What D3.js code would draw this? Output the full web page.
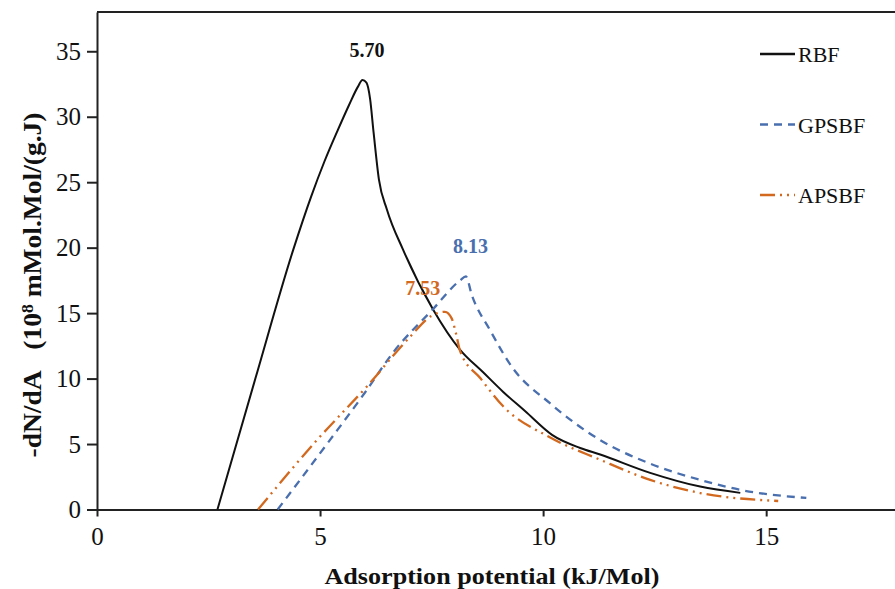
<!DOCTYPE html>
<html>
<head>
<meta charset="utf-8">
<script src="https://cdn.jsdelivr.net/npm/d3@7"></script>
<style>
  body { margin: 0; background: #fff; }
  text { font-family: "Liberation Serif", "Times New Roman", serif; }
</style>
</head>
<body>
<div id="my_dataviz"></div>
<script>
// data: [adsorption potential (kJ/Mol), -dN/dA]
var rbfData = [[2.7,0],[3.55,10],[4.4,19.85],[4.8,23.9],[5.1,26.6],[5.4,29],[5.65,30.9],[5.85,32.3],[5.95,32.8],[6.04,32.6],[6.12,31.4],[6.2,28.8],[6.32,25.2],[6.5,22.9],[6.86,19.85],[7.53,15.3],[8.14,12.2],[8.65,10.5],[9.1,9.0],[9.6,7.5],[10.2,5.7],[10.83,4.7],[11.28,4.2],[12.4,2.8],[13.52,1.75],[14.42,1.27]];
var gpsbfData = [[4.05,0],[5.22,5.3],[6.0,8.9],[6.64,12.0],[7.53,15.3],[8.14,17.5],[8.27,17.8],[8.4,16.4],[8.81,13.7],[9.3,10.9],[10.16,8.1],[11.28,5.3],[12.4,3.5],[13.52,2.26],[14.42,1.5],[15.9,0.88]];
var apsbfData = [[3.61,0],[4.93,5.3],[6.05,9.4],[7.02,13.2],[7.5,14.8],[7.8,15.1],[7.95,14.6],[8.05,13.4],[8.14,12.1],[8.6,10.0],[9.1,7.9],[10.16,5.5],[11.28,3.8],[12.4,2.26],[13.52,1.26],[15.27,0.65]];

var seriesNames = ["RBF", "GPSBF", "APSBF"];
var seriesColors = ["#111111", "#4a6fae", "#d2691f"];
var seriesDash = ["none", "8,6", "15,5,2,5,2,5"];

var peakLabels = ["5.70", "8.13", "7.53"];
var peakAt = [[6.05, 34.6], [8.37, 19.6], [7.3, 16.4]];

var xTicks = [0, 5, 10, 15];
var yTicks = [0, 5, 10, 15, 20, 25, 30, 35];

// set the dimensions and margins of the graph
var margin = {top: 12, right: 0, bottom: 79.5, left: 97},
    width = 803,
    height = 589 - margin.top - margin.bottom;

var svg = d3.select("#my_dataviz")
  .append("svg")
    .attr("width", 895)
    .attr("height", 589)
  .append("g")
    .attr("transform", "translate(" + margin.left + "," + margin.top + ")");

var x = d3.scaleLinear()
  .domain([0, 18])
  .range([0, width]);

var y = d3.scaleLinear()
  .domain([0, 38])
  .range([height, 0]);

// frame top
svg.append("line")
  .attr("x1", 0).attr("x2", width)
  .attr("y1", 0).attr("y2", 0)
  .attr("stroke", "#222")
  .attr("stroke-width", 2);

// X axis
var xAxis = svg.append("g")
  .attr("transform", "translate(0," + height + ")")
  .call(d3.axisBottom(x).tickValues(xTicks).tickSize(7).tickSizeOuter(0).tickPadding(11));
xAxis.selectAll("text").style("font-size", "25px").attr("fill", "#111");

// Y axis
var yAxis = svg.append("g")
  .call(d3.axisLeft(y).tickValues(yTicks).tickSize(10).tickSizeOuter(0).tickPadding(6));
yAxis.selectAll("text").style("font-size", "25px").attr("fill", "#111").attr("dy", "0.33em");

svg.selectAll(".domain, .tick line").attr("stroke", "#222").attr("stroke-width", 2);

// axis titles
svg.append("text")
  .attr("x", 395)
  .attr("y", 584 - margin.top)
  .attr("text-anchor", "middle")
  .attr("font-weight", "bold")
  .style("font-size", "23px")
  .attr("textLength", 335)
  .attr("lengthAdjust", "spacingAndGlyphs")
  .attr("fill", "#111")
  .text("Adsorption potential (kJ/Mol)");

var yLabel = svg.append("text")
  .attr("transform", "translate(" + (41 - margin.left) + "," + (285 - margin.top) + ") rotate(-90)")
  .attr("text-anchor", "middle")
  .attr("font-weight", "bold")
  .style("font-size", "25px")
  .attr("textLength", 345)
  .attr("lengthAdjust", "spacingAndGlyphs")
  .attr("fill", "#111");
yLabel.append("tspan").text("-dN/dA\u00a0\u00a0\u00a0(10");
yLabel.append("tspan").attr("baseline-shift", "super").style("font-size", "16px").text("8");
yLabel.append("tspan").text(" mMol.Mol/(g.J)");

// Show the lines
var line = d3.line()
  .x(function(d) { return x(d[0]); })
  .y(function(d) { return y(d[1]); })
  .curve(d3.curveMonotoneX);

[rbfData, gpsbfData, apsbfData].forEach(function(data, i) {
  svg.append("path")
    .datum(data)
    .attr("fill", "none")
    .attr("stroke", seriesColors[i])
    .attr("stroke-width", i == 0 ? 2 : 2.3)
    .attr("stroke-dasharray", seriesDash[i])
    .attr("d", line);
});

// peak labels
svg.selectAll(".peak")
  .data(peakLabels)
  .enter().append("text")
    .attr("class", "peak")
    .attr("x", function(d, i) { return x(peakAt[i][0]); })
    .attr("y", function(d, i) { return y(peakAt[i][1]); })
    .attr("text-anchor", "middle")
    .attr("font-weight", "bold")
    .style("font-size", "20px")
    .attr("fill", function(d, i) { return seriesColors[i]; })
    .text(function(d) { return d; });

// Add legend
var legend = svg.selectAll(".legend")
  .data(seriesNames)
  .enter().append("g")
    .attr("class", "legend")
    .attr("transform", function(d, i) { return "translate(" + (760 - margin.left) + "," + (54 + i * 70.5 - margin.top) + ")"; });

legend.append("line")
  .attr("x1", 0).attr("x2", 35)
  .attr("stroke", function(d, i) { return seriesColors[i]; })
  .attr("stroke-width", 2.3)
  .attr("stroke-dasharray", function(d, i) { return seriesDash[i]; });

legend.append("text")
  .attr("x", 38)
  .attr("y", 8)
  .style("font-size", "22px")
  .attr("fill", "#111")
  .text(function(d) { return d; });
</script>
</body>
</html>
